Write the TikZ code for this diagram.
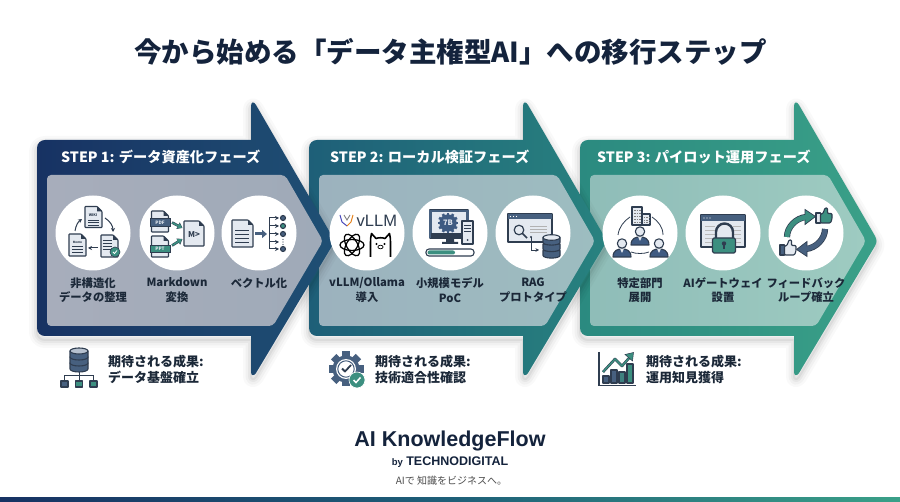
\documentclass[tikz,border=0pt]{standalone}
\usepackage{fontspec}
\setmainfont{Noto Sans CJK JP}
\newfontfamily\latf{Liberation Sans}
\usetikzlibrary{arrows.meta}
\definecolor{ink}{HTML}{14233C}
\definecolor{lab}{HTML}{1B2838}
\definecolor{navy}{HTML}{3F5B82}
\definecolor{dk}{HTML}{2F3D50}
\definecolor{grn}{HTML}{3C8F80}
\definecolor{docf}{HTML}{E4E9F0}
\definecolor{bluegray}{HTML}{47607F}
\definecolor{a1l}{HTML}{173263}\definecolor{a1r}{HTML}{1F5074}
\definecolor{a2l}{HTML}{1E5F78}\definecolor{a2r}{HTML}{28827F}
\definecolor{a3l}{HTML}{2B8A80}\definecolor{a3r}{HTML}{3AA088}
\definecolor{p1l}{HTML}{A7ADBB}\definecolor{p1r}{HTML}{9FAAB8}
\definecolor{p2l}{HTML}{9CB2BE}\definecolor{p2r}{HTML}{9DBDC0}
\definecolor{p3l}{HTML}{8FBDB8}\definecolor{p3r}{HTML}{9ECBC1}
\tikzset{
 x=1pt,y=-1pt,
 titlet/.style={font=\fontsize{27.5}{30}\selectfont\bfseries,text=ink,inner sep=0},
 stept/.style={font=\fontsize{14.2}{16}\selectfont\bfseries,text=white,anchor=west,inner sep=0},
 disc/.style={circle,fill=white,minimum size=75pt,inner sep=0},
 lbl/.style={font=\fontsize{11.3}{14.5}\selectfont\bfseries,text=lab,align=center,inner sep=0},
 outc/.style={font=\fontsize{13}{16}\selectfont\bfseries,text=lab,align=left,anchor=west,inner sep=0},
 tinyt/.style={font=\fontsize{#1}{#1}\selectfont\bfseries,inner sep=0},
 icl/.style={draw=dk,line width=1.1pt,line join=round},
 arr/.style={dk,line width=1pt,-{Stealth[length=4pt,width=4pt]}},
}
\newcommand{\bigout}{(37,241) -- (37,148) .. controls (37,143) and (41,140) .. (45,140) -- (251,140) -- (251,106) .. controls (251,102) and (254,101) .. (256,105) -- (332,236) .. controls (334,240) and (334,242) .. (332,246) -- (256,373) .. controls (254,376) and (251,376) .. (251,372) -- (251,336) -- (45,336) .. controls (41,336) and (37,333) .. (37,328) -- cycle}
\newcommand{\bigarrow}[5]{\begin{scope}[xshift=#1pt]
 \foreach \w/\o in {16/.025,11/.03,6/.04,2/.05}{\draw[black,opacity=\o,line width=\w pt,line join=round,yshift=-4pt] \bigout;}
 \shade[left color=#2,right color=#3] \bigout;
 \shade[left color=#4,right color=#5,rounded corners=4pt] (47,175) -- (285,175) -- (323,241) -- (273,326) -- (47,326) -- cycle;
\end{scope}}
\newcommand{\docic}[4]{\begin{scope}[shift={(#1,#2)}]
 \pgfmathsetmacro\hwd{#3/2}\pgfmathsetmacro\hhg{#4/2}\pgfmathsetmacro\fxx{#3/2-5}\pgfmathsetmacro\fyy{-#4/2+5}
 \draw[icl,fill=docf,rounded corners=0.6pt] (-\hwd,-\hhg) -- (\fxx,-\hhg) -- (\hwd,\fyy) -- (\hwd,\hhg) -- (-\hwd,\hhg) -- cycle;
 \fill[dk] (\fxx,-\hhg) -- (\hwd,\fyy) -- (\fxx,\fyy) -- cycle;
\end{scope}}
\newcommand{\rows}[3]{\foreach \q in {#2}{\draw[dk,line width=0.95pt] ({#1-#3},\q) -- ({#1+#3},\q);}}
\newcommand{\person}[3]{\begin{scope}[shift={(#1,#2)}]
 \draw[icl,fill=#3] (-9,8) .. controls (-9,1) and (-4,0) .. (0,0) .. controls (4,0) and (9,1) .. (9,8) -- cycle;
 \draw[icl,fill=docf] (0,-5.5) circle[radius=4.7];
 \fill[docf] (-1.8,0) -- (1.8,0) -- (0,4) -- cycle;
\end{scope}}
\newcommand{\thumbic}[4]{\begin{scope}[shift={(#1,#2)}]
 \draw[icl,fill=#3] (-8,-3) rectangle (-3.5,7);
 \draw[icl,fill=#4,rounded corners=1pt] (-3.5,-2) -- (-1,-2.5) -- (1,-8) -- (3.5,-8) -- (3.5,-2.5) -- (8,-2.5) -- (8,3) -- (6.5,7) -- (-3.5,7) -- cycle;
\end{scope}}
\begin{document}
\begin{tikzpicture}
\useasboundingbox (0,0) rectangle (900,502);
\fill[white] (0,0) rectangle (900,502);
\node[titlet] (title) at (450.5,52) {今から始める「データ主権型AI」への移行ステップ};
\bigarrow{543}{a3l}{a3r}{p3l}{p3r}
\bigarrow{272}{a2l}{a2r}{p2l}{p2r}
\bigarrow{0}{a1l}{a1r}{p1l}{p1r}
\node[stept] (s1) at (61,157) {STEP 1: データ資産化フェーズ};
\node[stept] (s2) at (330,157) {STEP 2: ローカル検証フェーズ};
\node[stept] (s3) at (597,157) {STEP 3: パイロット運用フェーズ};
\node[disc] (c1) at (93,233) {};
\node[disc] (c2) at (177,233) {};
\node[disc] (c3) at (259,233) {};
\node[disc] (c4) at (367,233) {};
\node[disc] (c5) at (450,233) {};
\node[disc] (c6) at (533,233) {};
\node[disc] (c7) at (640,233) {};
\node[disc] (c8) at (723,233) {};
\node[disc] (c9) at (806,233) {};
\node[lbl] (l1) at (93,290) {非構造化\\データの整理};
\node[lbl] (l2) at (177,290) {Markdown\\変換};
\node[lbl] (l3) at (259,283) {ベクトル化};
\node[lbl] (l4) at (367,290) {vLLM/Ollama\\導入};
\node[lbl] (l5) at (450,290) {小規模モデル\\PoC};
\node[lbl] (l6) at (533,290) {RAG\\プロトタイプ};
\node[lbl] (l7) at (640,290) {特定部門\\展開};
\node[lbl] (l8) at (723,290) {AIゲートウェイ\\設置};
\node[lbl] (l9) at (806,290) {フィードバック\\ループ確立};
% icon 1
\begin{scope}[shift={(93,233)}]
 \docic{0.5}{-16}{17}{21}
 \node[tinyt=3.6,text=dk] (wiki) at (0,-18) {WIKI};
 \rows{0.5}{-13,-10.5,-8}{5.5}
 \docic{-15.5}{12}{17}{22}
 \node[tinyt=3,text=dk] (memo) at (-15.5,9) {Memo};
 \rows{-15.5}{13,16,19}{5.5}
 \docic{16.5}{13}{17}{22}
 \rows{14}{7,10,13,16}{4.5}
 \fill[grn,draw=dk,line width=.6pt] (22,19) circle[radius=5];
 \draw[white,line width=.8pt] (20,19) -- (21.5,20.5) -- (24,17.5);
 \draw[arr] (-18,-2) .. controls (-17,-8) and (-15,-11) .. (-11,-14);
 \draw[arr] (12,-15) .. controls (17,-12) and (20,-7) .. (20,-1);
 \draw[arr] (5,15) -- (-5,15);
\end{scope}
% icon 2
\begin{scope}[shift={(177,233)}]
 \docic{-17}{-11.5}{17}{21}
 \fill[bluegray,draw=dk,line width=.5pt] (-27,-14.5) rectangle (-7,-7);
 \node[tinyt=4.6,text=docf] (pdf) at (-17,-10.7) {PDF};
 \docic{-17}{13.5}{17}{21}
 \fill[grn,draw=dk,line width=.5pt] (-27,12) rectangle (-7,19.5);
 \node[tinyt=4.6,text=docf] (ppt) at (-17,15.7) {PPT};
 \docic{17}{0.5}{20}{25}
 \node[tinyt=8,text=dk] (mk) at (17,2) {M>};
 \draw[dk,line width=2.6pt,-{Triangle[length=5pt,width=7pt]}] (-5,-10.5) -- (5.5,-5);
 \draw[grn,line width=1.6pt,-{Triangle[length=4.3pt,width=5.6pt]}] (-4.7,-10.3) -- (5,-5.2);
 \draw[dk,line width=2.6pt,-{Triangle[length=5pt,width=7pt]}] (-5,12.5) -- (5.5,6);
 \draw[grn,line width=1.6pt,-{Triangle[length=4.3pt,width=5.6pt]}] (-4.7,12.3) -- (5,6.2);
\end{scope}
% icon 3
\begin{scope}[shift={(259,233)}]
 \docic{-16.5}{0.5}{21}{27}
 \rows{-17}{-3,1,5,9}{7}
 \draw[bluegray,line width=3pt,-{Triangle[length=5pt,width=8pt]}] (-4,1) -- (8,1);
 \draw[dk,line width=.9pt] (10,-15) -- (10,16);
 \foreach \yy in {-15,-7,1,9,16}{\draw[arr] (10,\yy) -- (20,\yy);}
 \foreach \yy/\cc in {-15/bluegray,-7/grn,1/bluegray,16/bluegray}{\draw[icl,fill=\cc] (24,\yy) circle[radius=2.5];}
 \foreach \yy in {6.5,9,11.5}{\fill[dk] (24,\yy) circle[radius=.6];}
\end{scope}
% icon 4
\begin{scope}[shift={(367,233)}]
 \draw[line width=1pt,color=blue!45!gray] (-27,-18) -- (-25,-11) -- (-20,-7);
 \draw[line width=1pt,color=orange!80!gray] (-14,-18) -- (-16,-11) -- (-20,-7);
 \draw[line width=.9pt,color=gray] (-23,-18) -- (-20,-13) -- (-17,-18);
 \node[font=\latf\fontsize{16.5}{17}\selectfont,text=dk,anchor=west,inner sep=0] (vl) at (-10.5,-12) {vLLM};
 \begin{scope}[shift={(-15,12)}]
 \foreach \a in {0,60,120}{\draw[black,line width=1.25pt,rotate=\a] (0,0) ellipse[x radius=12,y radius=5.5];}
 \end{scope}
 \begin{scope}[shift={(13.5,13)}]
 \draw[black,line width=1.6pt,line join=round] (-10,11) -- (-10,-3) .. controls (-10,-6) and (-10,-9) .. (-9,-12.5) -- (-4.5,-7.5) .. controls (-2,-8.5) and (2,-8.5) .. (4.5,-7.5) -- (9,-12.5) .. controls (10,-9) and (10,-6) .. (10,-3) -- (10,11);
 \fill[black] (-4,-2) circle[radius=1.1] (4,-2) circle[radius=1.1];
 \draw[black,line width=.7pt] (0,1) ellipse[x radius=2.6,y radius=1.8];
 \end{scope}
\end{scope}
% icon 5
\begin{scope}[shift={(450,233)}]
 \draw[icl,fill=docf] (-20,-23) rectangle (18,5);
 \draw[bluegray,line width=2.2pt] (-19.5,-22) rectangle (17.5,4);
 \fill[dk] (-19,0) rectangle (17,5);
 \fill[dk] (-4,5) rectangle (4,9) (-8,9) rectangle (8,11);
 \begin{scope}[shift={(-2,-10)}]
  \foreach \a in {0,30,...,330}{\fill[navy,rotate=\a] (-1.3,-10.3) rectangle (1.3,-7);}
  \fill[navy] (0,0) circle[radius=8.7];
 \end{scope}
 \node[tinyt=7.5,text=docf] (seven) at (-2,-10) {7B};
 \draw[icl,fill=docf] (12,-12) rectangle (23,11);
 \rows{17.5}{-8,-5,-2}{3.5}
 \fill[dk] (17.5,7) circle[radius=1];
 \draw[icl,fill=white,rounded corners=3pt] (-24,16) rectangle (24,23);
 \fill[grn,rounded corners=2pt] (-22.5,17.5) rectangle (5,21.5);
\end{scope}
% icon 6
\begin{scope}[shift={(533,233)}]
 \draw[icl,fill=docf] (-25,-19) rectangle (19,9);
 \fill[bluegray] (-25,-19) rectangle (19,-14);
 \foreach \xx in {-22.5,-19.5,-16.5}{\fill[white] (\xx,-16.5) circle[radius=.7];}
 \draw[dk,line width=1.2pt] (-14,-3) circle[radius=4.8];
 \draw[dk,line width=1.5pt] (-10.7,0.3) -- (-6,5);
 \foreach \yy in {-7,-4,-1}{\draw[gray!60,line width=.9pt] (-3,\yy) -- (14,\yy);}
 \draw[dk,line width=.9pt,-{Stealth[length=3.5pt,width=3.5pt]}] (-2,4) -- (-2,17) -- (6,17);
 \fill[dk] (-2,4) circle[radius=1.1];
 \foreach \yy in {17.5,11,4.5}{
  \draw[icl,fill=bluegray] (10,\yy) -- (10,{\yy+5}) arc[start angle=180,end angle=0,x radius=8.5,y radius=2.6] -- (27,\yy) -- cycle;}
 \draw[icl,fill=docf] (18.5,4.5) ellipse[x radius=8.5,y radius=2.8];
\end{scope}
% icon 7
\begin{scope}[shift={(640,233)}]
 \draw[icl,fill=docf] (-8,-26) rectangle (2,-8);
 \draw[icl,fill=docf] (2,-19) rectangle (10,-8);
 \foreach \yy in {-23,-20,-17,-14,-11}{\draw[gray,line width=.9pt,dash pattern=on 1.5pt off 1pt] (-6,\yy) -- (0.5,\yy);}
 \foreach \yy in {-16,-13,-10.5}{\draw[gray,line width=.9pt,dash pattern=on 1.5pt off 1pt] (3.5,\yy) -- (9,\yy);}
 \draw[dk,line width=.8pt] (-22,2) .. controls (-21,-6) and (-16,-12) .. (-10,-16);
 \draw[dk,line width=.8pt] (12,-16) .. controls (18,-12) and (23,-6) .. (23,2);
 \draw[dk,line width=.8pt] (-9,19) .. controls (-4,21) and (4,21) .. (9,19);
 \person{0}{4}{navy}
 \person{-18}{16}{navy}
 \person{19}{16}{navy}
\end{scope}
% icon 8
\begin{scope}[shift={(723,233)}]
 \draw[icl,fill=docf] (-22,-18) rectangle (22,14);
 \fill[bluegray] (-22,-18) rectangle (22,-12);
 \foreach \xx in {-19,-16,-13}{\fill[white] (\xx,-15) circle[radius=.7];}
 \foreach \yy in {-7,-3,1,5,9}{\draw[gray!55,line width=.9pt] (-18,\yy) -- (-8,\yy) (10,\yy) -- (18,\yy);}
 \draw[dk,line width=2.4pt,fill=docf] (-7,6) -- (-7,-1) arc[start angle=180,end angle=360,radius=8.5] -- (10,6);
 \draw[icl,fill=grn,rounded corners=1.5pt] (-10.5,5) rectangle (12.5,20);
 \fill[dk] (1,10.5) circle[radius=2.2];
 \fill[dk] (0,11) rectangle (2,16);
\end{scope}
% icon 9
\begin{scope}[shift={(806,233)}]
 \draw[dk,line width=6.2pt] (-19,4) .. controls (-19,-6) and (-10,-15) .. (0,-16);
 \draw[dk,fill=grn,line width=.7pt] (-1,-23.5) -- (9.5,-16.5) -- (-1,-8.5) -- cycle;
 \draw[grn,line width=4.8pt] (-19,4) .. controls (-19,-6) and (-10,-15) .. (0.5,-16);
 \draw[dk,line width=6.2pt] (19,-4) .. controls (19,6) and (10,15) .. (0,16);
 \draw[dk,fill=bluegray,line width=.7pt] (1,8.5) -- (-9.5,16.5) -- (1,23.5) -- cycle;
 \draw[bluegray,line width=4.8pt] (19,-4) .. controls (19,6) and (10,15) .. (-.5,16);
 \thumbic{18}{-17}{docf}{grn}
 \thumbic{-18}{15}{bluegray}{docf}
\end{scope}
% outcomes
\begin{scope}[shift={(79,360)}]
 \foreach \yy in {3,-3,-9}{\draw[icl,fill=bluegray] (-9,\yy) -- (-9,{\yy+6}) arc[start angle=180,end angle=0,x radius=9,y radius=3] -- (9,\yy) -- cycle;}
 \draw[icl,fill=docf!70!bluegray] (0,-9) ellipse[x radius=9,y radius=3];
 \draw[dk,line width=1pt] (0,12) -- (0,21) (-14.5,26) -- (-14.5,16) -- (14.5,16) -- (14.5,26) (0,16) -- (0,26);
 \draw[icl,fill=bluegray] (-18,21) rectangle (-11,27);
 \draw[icl,fill=grn] (-3.5,21) rectangle (3.5,27);
 \draw[icl,fill=grn] (11,21) rectangle (18,27);
\end{scope}
\node[outc] (o1) at (108,369) {期待される成果:\\データ基盤確立};
\begin{scope}[shift={(346,369)}]
 \foreach \a in {0,45,...,315}{\fill[bluegray,rotate=\a] (-3.8,-17.5) rectangle (3.8,-11);}
 \fill[bluegray] (0,0) circle[radius=13.5];
 \fill[white] (0,0) circle[radius=10];
 \draw[bluegray,line width=1pt] (0,0) circle[radius=8.2];
 \draw[dk,line width=1.8pt,line join=round] (-4,-.5) -- (-1,2.5) -- (5,-4);
 \fill[grn,draw=white,line width=.6pt] (11,11) circle[radius=8];
 \draw[white,line width=1.5pt] (7.5,11) -- (10,13.5) -- (14.5,8.5);
\end{scope}
\node[outc] (o2) at (375,369) {期待される成果:\\技術適合性確認};
\begin{scope}[shift={(599,352)}]
 \draw[dk,line width=1.1pt] (0,0) -- (0,33.5) -- (37,33.5);
 \draw[icl,fill=bluegray] (4,24) rectangle (10,31);
 \draw[icl,fill=bluegray] (12,18) rectangle (18,31);
 \draw[icl,fill=grn!70!bluegray] (20,20) rectangle (26,31);
 \draw[icl,fill=grn] (28,12) rectangle (34,31);
 \draw[dk,line width=2.6pt,line join=round] (4,20) -- (16,7) -- (23,14) -- (31,5);
 \draw[grn,line width=1.5pt,line join=round] (4,20) -- (16,7) -- (23,14) -- (31,5);
 \fill[grn,draw=dk,line width=.5pt] (26,2.5) -- (34.5,.5) -- (33.5,9) -- cycle;
\end{scope}
\node[outc] (o3) at (646,369) {期待される成果:\\運用知見獲得};
% footer
\node[font=\latf\fontsize{21.5}{24}\selectfont\bfseries,text=ink,inner sep=0] (brand) at (450,441) {AI KnowledgeFlow};
\node[font=\latf\fontsize{12.5}{14}\selectfont\bfseries,text=ink,inner sep=0] (by) at (450,462) {{\fontsize{9.5}{10}\selectfont by} TECHNODIGITAL};
\node[font=\fontsize{10}{12}\selectfont,text=black!70,inner sep=0] (tag) at (451.5,481) {AIで 知識をビジネスへ。};
\shade[left color=a1l,right color=a3r,middle color=a2l] (0,497) rectangle (900,502);
\end{tikzpicture}
\end{document}
